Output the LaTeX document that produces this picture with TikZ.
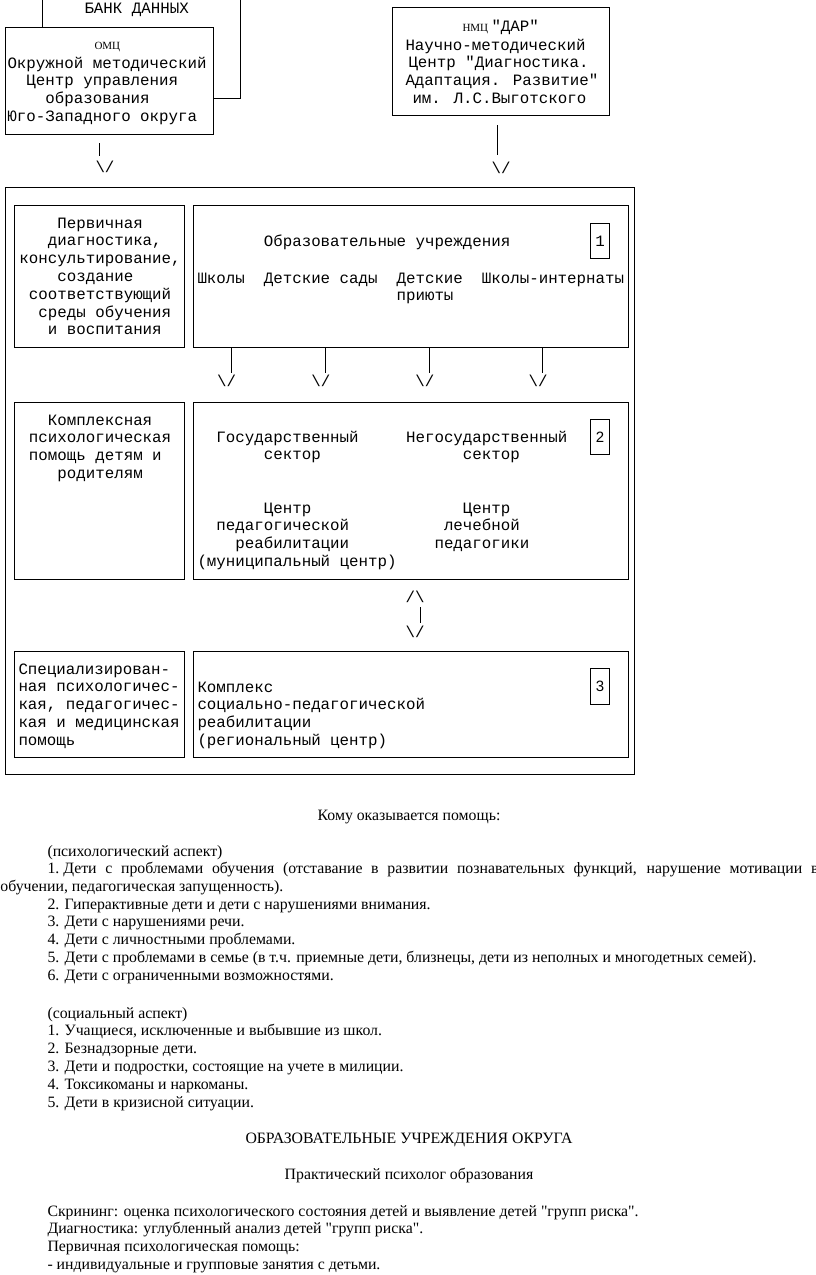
\documentclass[tikz,border=0pt]{standalone}
\usepackage{fontspec}
\setmainfont{Liberation Serif}[Ligatures=TeXOff]
\newfontfamily\mono{Liberation Mono}[Ligatures=TeXOff]
\newfontfamily\sansf{Liberation Sans}
\newlength\cw \setlength\cw{9.48pt}
\newcommand\ind[1]{\hspace*{#1\cw}}
\newcommand\arrdn{\textbackslash/}
\newcommand\arrup{/\textbackslash}
\begin{document}
\begin{tikzpicture}[x=1pt,y=-1pt,line width=1pt,
  mt/.style={font=\mono\fontsize{15.8}{17.8}\selectfont,inner sep=0pt,anchor=base west,align=left},
  st/.style={font=\fontsize{15.8}{17.8}\selectfont,inner sep=0pt,anchor=base west,align=left},
  abbr/.style={font=\fontsize{11}{13}\selectfont,inner sep=0pt,anchor=base west},
  box/.style={draw,line width=1pt,inner sep=0pt,anchor=north west},
  conn/.style={draw,line width=1pt}]
\useasboundingbox (0,0) rectangle (816,1275);
% (multi-line nodes: base anchor = baseline of the last line)

% boxes
\node[box,minimum width=208pt,minimum height=107pt] (omc) at (5,27) {};
\node[box,minimum width=217pt,minimum height=108pt] (nmc) at (392,7) {};
\node[box,minimum width=629pt,minimum height=587pt] (frame) at (5,187) {};
\node[box,minimum width=170pt,minimum height=142pt] (b1l) at (14,205) {};
\node[box,minimum width=435pt,minimum height=142pt] (b1r) at (193,205) {};
\node[box,minimum width=170pt,minimum height=177pt] (b2l) at (14,402) {};
\node[box,minimum width=435pt,minimum height=177pt] (b2r) at (193,402) {};
\node[box,minimum width=170pt,minimum height=106pt] (b3l) at (14,651) {};
\node[box,minimum width=435pt,minimum height=106pt] (b3r) at (193,651) {};
\node[box,minimum width=19pt,minimum height=35pt] (n1) at (590,223) {};
\node[box,minimum width=19pt,minimum height=35pt] (n2) at (590,419) {};
\node[box,minimum width=19pt,minimum height=36pt] (n3) at (590,668) {};
\node[mt,anchor=base] (n1t) at (n1.center |- 0,246) {1};
\node[mt,anchor=base,font=\sansf\fontsize{15}{17}\selectfont] (n2t) at (n2.center |- 0,442) {2};
\node[mt,anchor=base,font=\sansf\fontsize{15}{17}\selectfont] (n3t) at (n3.center |- 0,691) {3};

% top: data bank
\node[mt] (bank) at (84,13) {БАНК ДАННЫХ};
\coordinate (bkl) at (42,0);
\coordinate (bkr) at (240,0);
\coordinate (omcj) at (213,98);
\draw[conn] (bkl) -- (bkl |- omc.north);
\draw[conn] (bkr) |- (omcj);

% OMC text
\node[abbr] (omct) at (94,49.5) {ОМЦ};
\node[mt] (omctx) at (7,121.4) {Окружной методический\\\ind{2}Центр управления\\\ind{4}образования\\Юго-Западного округа};

% NMC text
\node[abbr] (nmca) at (462,31) {НМЦ};
\node[mt] (nmcb) at (491,31) {"ДАР"};
\node[mt] (nmctx) at (405,103.4) {Научно-методический\\\hspace*{3pt}Центр "Диагностика.\\Адаптация. Развитие"\\\hspace*{7pt}им. Л.С.Выготского};

% arrows from top boxes
\coordinate (l0a) at (99,143); \coordinate (l0b) at (99,156);
\draw[conn] (l0a) -- (l0b);
\node[mt,anchor=base] (a0) at (105,172) {\arrdn};
\coordinate (l1a) at (497,125); \coordinate (l1b) at (497,155);
\draw[conn] (l1a) -- (l1b);
\node[mt,anchor=base] (a1) at (501,173) {\arrdn};

% row 1 text
\node[mt] (t1l) at (19,334.8) {\ind{4}Первичная\\\ind{3}диагностика,\\консультирование,\\\ind{4}создание\\\ind{1}соответствующий\\\ind{2}среды обучения\\\ind{3}и воспитания};
\node[mt] (t1h) at (197,246) {\ind{7}Образовательные учреждения};
\node[mt] (t1r) at (197,300.8) {Школы\ind{2}Детские сады\ind{2}Детские\ind{2}Школы-интернаты\\\ind{21}приюты};

% arrows row1 -> row2
\foreach \lx/\ax/\nm in {231/226.5/p, 325/320.8/q, 429/424.8/r, 542/538/s}{
  \coordinate (d\nm) at (\lx,373);
  \draw[conn] (b1r.south -| d\nm) -- (d\nm);
  \node[mt,anchor=base] (ad\nm) at (\ax,386) {\arrdn};
}

% row 2 text
\node[mt] (t2l) at (19,478.4) {\ind{3}Комплексная\\\ind{1}психологическая\\\ind{1}помощь детям и\\\ind{4}родителям};
\node[mt] (t2a) at (197,459.8) {\ind{2}Государственный\ind{5}Негосударственный\\\ind{7}сектор\ind{15}сектор};
\node[mt] (t2b) at (197,566.4) {\ind{7}Центр\ind{16}Центр\\\ind{2}педагогической\ind{10}лечебной\\\ind{4}реабилитации\ind{9}педагогики\\(муниципальный центр)};

% two-way arrow row2 <-> row3
\node[mt,anchor=base] (au) at (415,602) {\arrup};
\coordinate (m1) at (420,607); \coordinate (m2) at (420,623);
\draw[conn] (m1) -- (m2);
\node[mt,anchor=base] (ad) at (415,637) {\arrdn};

% row 3 text
\node[mt] (t3l) at (18,745.2) {Специализирован-\\ная психологичес-\\кая, педагогичес-\\кая и медицинская\\помощь};
\node[mt] (t3r) at (197,745.4) {Комплекс\\социально-педагогической\\реабилитации\\(региональный центр)};

% lower text
\node[st,anchor=base] (h1) at (409,820) {Кому оказывается помощь:};
\node[st] (ps1) at (47,873.8) {(психологический аспект)\\\makebox[771pt][s]{1.\hspace{4pt}Дети с проблемами обучения (отставание в развитии познавательных функций, нарушение мотивации в}};
\node[st] (ps2) at (0,891) {обучении, педагогическая запущенность).};
\node[st] (ps3) at (47,980.2) {2. Гиперактивные дети и дети с нарушениями внимания.\\3. Дети с нарушениями речи.\\4. Дети с личностными проблемами.\\5. Дети с проблемами в семье (в т.ч. приемные дети, близнецы, дети из неполных и многодетных семей).\\6. Дети с ограниченными возможностями.};
\node[st] (soc) at (47,1107) {(социальный аспект)\\1. Учащиеся, исключенные и выбывшие из школ.\\2. Безнадзорные дети.\\3. Дети и подростки, состоящие на учете в милиции.\\4. Токсикоманы и наркоманы.\\5. Дети в кризисной ситуации.};
\node[st,anchor=base] (h2) at (409,1143.5) {ОБРАЗОВАТЕЛЬНЫЕ УЧРЕЖДЕНИЯ ОКРУГА};
\node[st,anchor=base] (h3) at (409,1179) {Практический психолог образования};
\node[st] (scr) at (47,1269.4) {Скрининг: оценка психологического состояния детей и выявление детей "групп риска".\\Диагностика: углубленный анализ детей "групп риска".\\Первичная психологическая помощь:\\- индивидуальные и групповые занятия с детьми.};
\end{tikzpicture}
\end{document}
